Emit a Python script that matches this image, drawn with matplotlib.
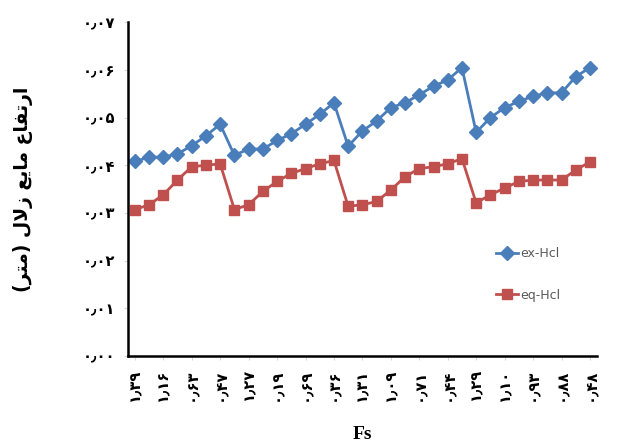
import matplotlib
matplotlib.use("Agg")
import matplotlib.pyplot as plt

# fs labels shown under every second point (persian digits)
x_labels = ["۱٫۳۹", "۱٫۱۶", "۰٫۶۳", "۰٫۴۷", "۱٫۲۷", "۰٫۱۹", "۰٫۶۹", "۰٫۳۶", "۱٫۳۱",
            "۱٫۰۹", "۰٫۷۱", "۰٫۴۴", "۱٫۲۹", "۱٫۱۰", "۰٫۹۳", "۰٫۸۸", "۰٫۴۸"]

ex_hcl = [0.0408, 0.0417, 0.0417, 0.0424, 0.0441, 0.0462, 0.0486,
          0.0421, 0.0434, 0.0434, 0.0452, 0.0466, 0.0486, 0.0507, 0.0531,
          0.0440, 0.0472, 0.0493, 0.0521, 0.0531, 0.0548, 0.0566, 0.0579, 0.0605,
          0.0469, 0.0500, 0.0521, 0.0534, 0.0545, 0.0552, 0.0552, 0.0586, 0.0605]

eq_hcl = [0.0307, 0.0317, 0.0338, 0.0369, 0.0397, 0.0400, 0.0403,
          0.0307, 0.0317, 0.0345, 0.0366, 0.0383, 0.0393, 0.0403, 0.0410,
          0.0314, 0.0317, 0.0324, 0.0348, 0.0376, 0.0393, 0.0397, 0.0403, 0.0414,
          0.0321, 0.0338, 0.0352, 0.0366, 0.0369, 0.0369, 0.0369, 0.0390, 0.0407]

y_ticks = [0.0, 0.01, 0.02, 0.03, 0.04, 0.05, 0.06, 0.07]
y_labels = ["۰٫۰۰", "۰٫۰۱", "۰٫۰۲", "۰٫۰۳", "۰٫۰۴", "۰٫۰۵", "۰٫۰۶", "۰٫۰۷"]

# "ارتفاع مایع زلال (متر)" in shaped presentation forms, visual order
ylab = ("(\ufeae\ufe98\ufee3) \ufedd\ufefb\ufeaf \ufeca\ufef3\ufe8e\ufee3 "
        "\ufec9\ufe8e\ufed4\ufe97\ufead\ufe8d")

fig = plt.figure(figsize=(6.2, 4.47), dpi=100)
ax = fig.add_axes([0.206, 0.204, 0.757, 0.746])

xs = list(range(len(ex_hcl)))
ax.plot(xs, ex_hcl, color="#4a7ebb", lw=2, marker="D", ms=7, label="ex-Hcl")
ax.plot(xs, eq_hcl, color="#c0504d", lw=2, marker="s", ms=7, label="eq-Hcl")

ax.set_xlim(-0.5, len(xs) - 0.5)
ax.set_ylim(0, 0.07)

ax.set_xticks(xs[::2])
ax.set_xticklabels(x_labels, rotation=90, fontsize=10.5, fontweight="bold", family="DejaVu Sans")
ax.set_yticks(y_ticks)
ax.set_yticklabels(y_labels, fontsize=10.5, fontweight="bold", family="DejaVu Sans")
ax.tick_params(axis="both", length=3, color="#d9d9d9", pad=6)

for s in ["top", "right"]:
    ax.spines[s].set_visible(False)
ax.spines["left"].set_linewidth(1.8)
ax.spines["bottom"].set_linewidth(1.8)

ax.set_ylabel(ylab, fontsize=13.5, fontweight="bold", family="DejaVu Sans", labelpad=36)
ax.set_xlabel("Fs", fontsize=14, fontweight="bold", family="Liberation Serif", labelpad=18)

leg = ax.legend(loc="upper left", bbox_to_anchor=(0.76, 0.36), frameon=False,
                labelspacing=2.3, handlelength=1.8, handletextpad=0.2,
                prop={"family": ["Liberation Sans Narrow", "DejaVu Sans"], "size": 9})
for t in leg.get_texts():
    t.set_color("#595959")

fig.savefig("out.png", dpi=100)
